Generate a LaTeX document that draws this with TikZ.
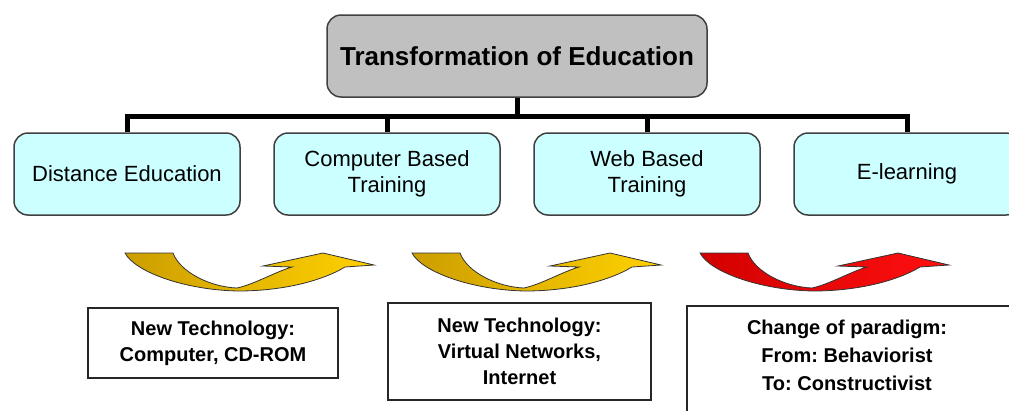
\documentclass[tikz,border=0pt]{standalone}
\usepackage{fontspec}
\setmainfont{Liberation Sans}
\frenchspacing
\definecolor{top-box-color}{HTML}{C0C0C0}
\definecolor{branch-box-color}{HTML}{CCFFFF}
\definecolor{box-line-color}{HTML}{404040}
\definecolor{gold-arrow-dark}{HTML}{CC9E00}
\definecolor{gold-arrow-light}{HTML}{FFD100}
\definecolor{red-arrow-dark}{HTML}{D20000}
\definecolor{red-arrow-light}{HTML}{FF1010}

\begin{document}
\begin{tikzpicture}[x=1pt,y=1pt,
level 1/.style={sibling distance=260pt},
level 1/.append style={level distance=118pt},
topbox/.style={rectangle, rounded corners=14pt, draw=box-line-color, line width=1.5pt, fill=top-box-color, minimum width=380pt, minimum height=82pt, font=\fontsize{26}{30}\selectfont\bfseries},
branch/.style={rectangle, rounded corners=14pt, draw=box-line-color, line width=1.5pt, fill=branch-box-color, minimum width=226pt, minimum height=82pt, align=center, font=\fontsize{22}{26}\selectfont},
notebox/.style={rectangle, draw=black!85, line width=1.5pt, fill=white, align=center, font=\fontsize{20}{26}\selectfont\bfseries}]
\tikzstyle{edge from parent}=[draw=black, line width=5pt]
\tikzset{edge from parent path={(\tikzparentnode.south) -- ++(0,-19pt) -| (\tikzchildnode.north)}}

\useasboundingbox (0,0) rectangle (1009,-410);
\clip (0,0) rectangle (1009,-410);

\node (Root) [topbox] at (517,-56) {Transformation of Education}
child {
    node (Distance) [branch] {Distance Education} }
%
child {
    node (Computer) [branch] {Computer Based\\Training} }
%
child {
    node (Web) [branch] {Web Based\\Training} }
%
child {
    node (Elearning) [branch] {E-learning} };

% bent arrows
\foreach \dx/\tone in {0/gold,287/gold,575/red}
  \draw[black!80, line width=0.8pt, left color=\tone-arrow-dark, right color=\tone-arrow-light, xshift=\dx pt]
    (125,-253) -- (173,-253) .. controls (180,-272) and (210,-287) .. (237,-288)
    .. controls (255,-284) and (275,-272) .. (292,-267) -- (263,-266) -- (323,-253)
    -- (374,-265) -- (345,-267) .. controls (320,-282) and (280,-291) .. (238,-291)
    .. controls (185,-290) and (135,-272) .. (125,-253) -- cycle;

\node (TechA) [notebox, minimum width=250pt, minimum height=70pt] at (213,-343) {New Technology:\\Computer, CD-ROM};
\node (TechB) [notebox, minimum width=263pt, minimum height=97pt] at (519.5,-351.5) {New Technology:\\Virtual Networks,\\Internet};
\node (Paradigm) [notebox, minimum width=360pt, minimum height=140pt,
  label={[align=center, font=\fontsize{20}{28}\selectfont\bfseries, xshift=-20pt, yshift=21pt]center:{Change of paradigm:\\From: Behaviorist\\To: Constructivist}}] at (867,-376) {};

\end{tikzpicture}
\end{document}
